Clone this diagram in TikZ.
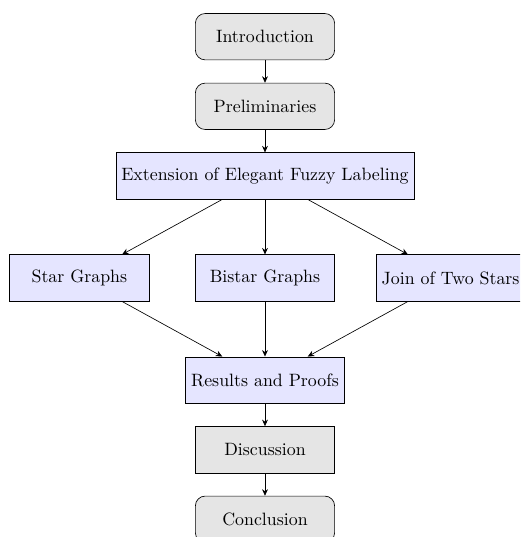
\documentclass[tikz,border=0pt]{standalone}
\usetikzlibrary{arrows.meta}
\tikzset{
  basebox/.style={draw=black, minimum width=3cm, minimum height=1cm, align=center, font=\fontsize{10.95}{13.6}\selectfont},
  graybox/.style={basebox, fill=gray!20},
  roundbox/.style={graybox, rounded corners=6pt},
  bluebox/.style={basebox, fill=blue!10},
  conn/.style={-{Stealth[length=4pt,width=3.6pt]}, draw=black}
}
\begin{document}
\begin{tikzpicture}
\useasboundingbox (-5.711,0.791) rectangle (5.496,-10.782);
\clip (-5.711,0.791) rectangle (5.496,-10.782);
\node[roundbox] (intro) at (0,0) {Introduction};
\node[roundbox] (prelim) at (0,-1.5) {Preliminaries};
\node[bluebox] (ext) at (0,-3) {Extension of Elegant Fuzzy Labeling};
\node[bluebox] (star) at (-4,-5.2) {Star Graphs};
\node[bluebox] (bistar) at (0,-5.2) {Bistar Graphs};
\node[bluebox] (join) at (4,-5.2) {Join of Two Stars};
\node[bluebox] (res) at (0,-7.4) {Results and Proofs};
\node[graybox] (disc) at (0,-8.9) {Discussion};
\node[roundbox] (conc) at (0,-10.4) {Conclusion};
\draw[conn] (intro) -- (prelim);
\draw[conn] (prelim) -- (ext);
\draw[conn] (ext) -- (star);
\draw[conn] (ext) -- (bistar);
\draw[conn] (ext) -- (join);
\draw[conn] (star) -- (res);
\draw[conn] (bistar) -- (res);
\draw[conn] (join) -- (res);
\draw[conn] (res) -- (disc);
\draw[conn] (disc) -- (conc);
\end{tikzpicture}
\end{document}
